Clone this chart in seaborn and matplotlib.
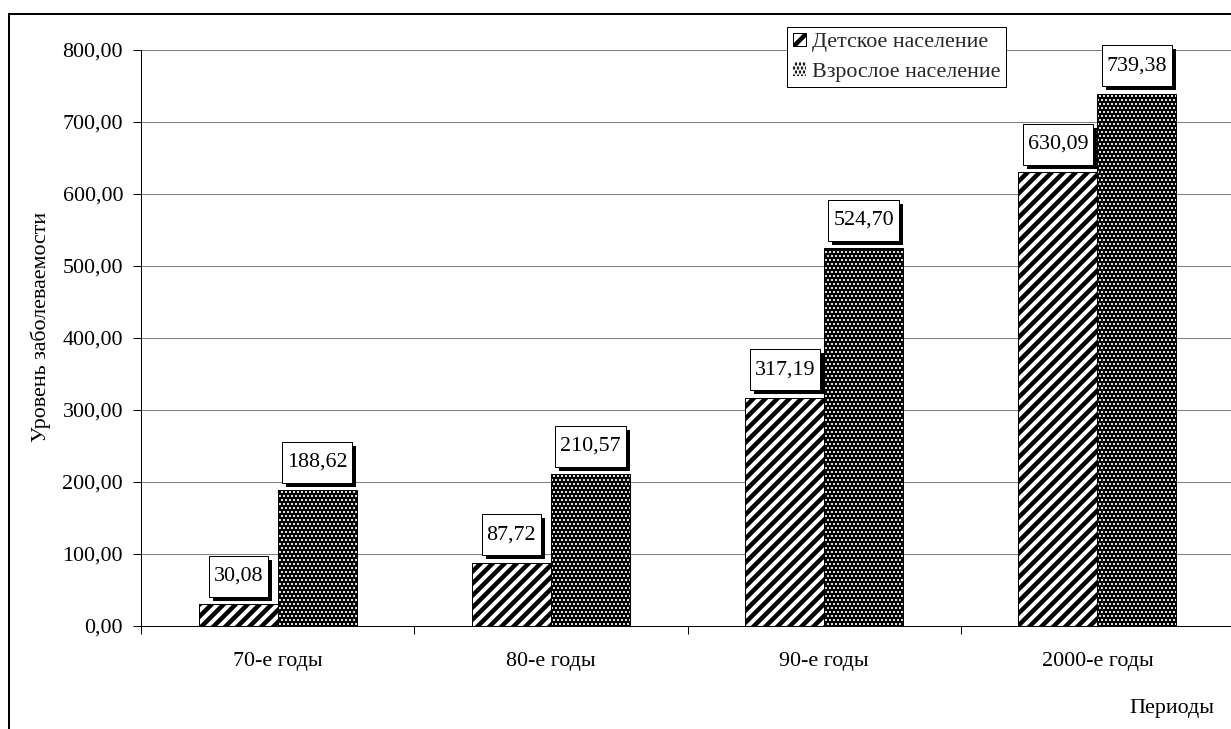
import matplotlib
matplotlib.use("Agg")
import matplotlib.pyplot as plt
import matplotlib.patheffects as pe
from matplotlib.patches import Patch, Rectangle
from matplotlib.ticker import FuncFormatter, FixedLocator
import pandas as pd
import seaborn as sns

# ---- data ----
periods = ["70-е годы", "80-е годы", "90-е годы", "2000-е годы"]
children = [30.08, 87.72, 317.19, 630.09]
adults = [188.62, 210.57, 524.70, 739.38]
series_names = ["Детское население", "Взрослое население"]
y_ticks = [0, 100, 200, 300, 400, 500, 600, 700, 800]
y_title = "Уровень заболеваемости"
x_title = "Периоды"

W, H, DPI = 1231, 729, 72
FS = 22
STRIPE_LW = 4.5
DOT_LW = 1.4

sns.set_theme(style="white")
plt.rcParams["font.family"] = ["Liberation Serif", "DejaVu Serif"]
plt.rcParams["hatch.linewidth"] = STRIPE_LW

df = pd.DataFrame({
    "period": periods * 2,
    "value": children + adults,
    "group": [series_names[0]] * len(periods) + [series_names[1]] * len(periods),
})

fig = plt.figure(figsize=(W / DPI, H / DPI), dpi=DPI)
fig.patch.set_facecolor("white")
ax = fig.add_axes([141 / W, (H - 626) / H, (1234 - 141) / W, 576 / H])

sns.barplot(data=df, x="period", y="value", hue="group", order=periods,
            hue_order=series_names, palette=["white", "white"], width=0.578,
            gap=0, dodge=True, legend=False, errorbar=None, saturation=1,
            edgecolor="black", linewidth=1, ax=ax, zorder=2)

child_bars, adult_bars = ax.containers[0], ax.containers[1]

def fmt(v):
    return f"{v:.2f}".replace(".", ",")

# children: black diagonal stripes on white
for p in child_bars:
    p.set_hatch("//")
    p.set_edgecolor("black")
    if hasattr(p, "set_hatch_linewidth"):
        p.set_hatch_linewidth(STRIPE_LW)

# adults: dark fill with small white dots, black outline on top
for p in adult_bars:
    p.set_facecolor("black")
    p.set_edgecolor("white")
    p.set_linewidth(0)
    p.set_hatch("...")
    if hasattr(p, "set_hatch_linewidth"):
        p.set_hatch_linewidth(DOT_LW)
    ax.add_patch(Rectangle(p.get_xy(), p.get_width(), p.get_height(),
                           fill=False, edgecolor="black", linewidth=1, zorder=3))

# value labels in white boxes with a drop shadow
for bars, vals in ((child_bars, children), (adult_bars, adults)):
    for p, v in zip(bars, vals):
        ann = ax.annotate(fmt(v), xy=(p.get_x() + p.get_width() / 2, v),
                          xytext=(0, 18.5), textcoords="offset points",
                          ha="center", va="bottom", fontsize=FS, color="black",
                          zorder=5,
                          bbox=dict(boxstyle="square,pad=0.22", mutation_aspect=2.3,
                                    facecolor="white", edgecolor="black",
                                    linewidth=1))
        ann.get_bbox_patch().set_path_effects([
            pe.SimplePatchShadow(offset=(4, -4), shadow_rgbFace="black", alpha=1),
            pe.Normal()])

# axes styling
ax.set_ylim(y_ticks[0], y_ticks[-1])
ax.set_yticks(y_ticks)
ax.yaxis.set_major_formatter(FuncFormatter(lambda v, pos: fmt(v)))
ax.yaxis.grid(True, color="#808080", linewidth=1)
ax.xaxis.grid(False)
ax.set_axisbelow(True)
for side in ("top", "right"):
    ax.spines[side].set_visible(False)
for side in ("left", "bottom"):
    ax.spines[side].set_color("black")
    ax.spines[side].set_linewidth(1)

ax.tick_params(axis="y", which="major", left=True, length=8, width=1, pad=10,
               direction="out", color="black", labelsize=FS, labelcolor="black")
ax.tick_params(axis="x", which="major", bottom=False, length=0, pad=26,
               labelsize=FS, labelcolor="black")
ax.xaxis.set_minor_locator(FixedLocator([i - 0.5 for i in range(len(periods) + 1)]))
ax.tick_params(axis="x", which="minor", bottom=True, length=8, width=1,
               direction="out", color="black")

ax.set_xlabel("")
ax.set_ylabel(y_title, fontsize=FS, color="black")
ax.yaxis.set_label_coords((51 - 141) / 1093, 0.52)

fig.text(1172 / W, 1 - 708 / H, x_title, ha="center", va="center",
         fontsize=FS, color="black")

# legend
handles = [
    Patch(facecolor="white", edgecolor="black", hatch="/", linewidth=1),
    Patch(facecolor="black", edgecolor="white", hatch="...", linewidth=0),
]
if hasattr(handles[0], "set_hatch_linewidth"):
    handles[0].set_hatch_linewidth(STRIPE_LW)
    handles[1].set_hatch_linewidth(DOT_LW)
leg = fig.legend(handles, series_names, loc="upper left",
                 bbox_to_anchor=(787 / W, 1 - 27 / H), frameon=True,
                 fancybox=False, framealpha=1, edgecolor="black", fontsize=FS,
                 handlelength=0.6, handleheight=0.6, handletextpad=0.3,
                 labelspacing=0.45, borderpad=0.25, borderaxespad=0)
leg.get_frame().set_linewidth(1)

# outer chart frame
fig.add_artist(Rectangle((9 / W, -0.1), 1.2, (H - 14) / H + 0.1,
                         transform=fig.transFigure, fill=False,
                         edgecolor="black", linewidth=2, clip_on=False))

fig.savefig("out.png", dpi=DPI)
